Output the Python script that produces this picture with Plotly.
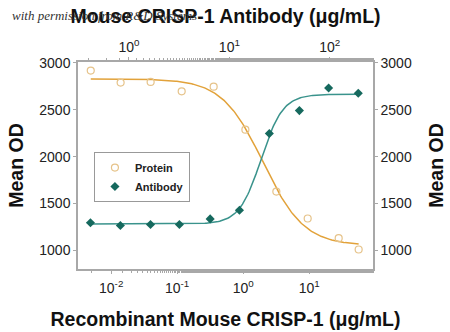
import numpy as np
import plotly.graph_objects as go

# ---- data ----
protein_conc = [0.0049, 0.0139, 0.0396, 0.117, 0.357, 1.08, 3.18, 9.49, 28.0, 56.2]   # µg/mL, bottom axis
protein_od = [2918, 2790, 2797, 2697, 2747, 2288, 1627, 1339, 1129, 1008]

antibody_conc = [0.414, 0.822, 1.64, 3.18, 6.44, 12.6, 25.0, 49.8, 97.3, 192]        # µg/mL, top axis
antibody_od = [1293, 1264, 1275, 1275, 1335, 1427, 2246, 2491, 2733, 2676]

# 4-parameter logistic fit parameters (top, bottom, EC50, Hill slope)
protein_fit = dict(top=2830, bottom=1050, ec50=2.0, hill=1.4)
antibody_fit = dict(top=2665, bottom=1280, ec50=20.7, hill=4.0)

y_ticks = [1000, 1500, 2000, 2500, 3000]
bottom_x_ticks = [0.01, 0.1, 1, 10]
bottom_x_labels = ["10<sup>-2</sup>", "10<sup>-1</sup>", "10<sup>0</sup>", "10<sup>1</sup>"]
top_x_ticks = [1, 10, 100]
top_x_labels = ["10<sup>0</sup>", "10<sup>1</sup>", "10<sup>2</sup>"]


def four_pl(x, top, bottom, ec50, hill):
    return bottom + (top - bottom) / (1 + (x / ec50) ** hill)


px = np.logspace(np.log10(protein_conc[0]), np.log10(protein_conc[-1]), 200)
py = four_pl(px, **protein_fit)
ax_ = np.logspace(np.log10(antibody_conc[0]), np.log10(antibody_conc[-1]), 200)
ay = four_pl(ax_, antibody_fit["bottom"], antibody_fit["top"], antibody_fit["ec50"], antibody_fit["hill"])

ORANGE_LINE = "#E2A23A"
ORANGE_MK = "#E6C38A"
TEAL_LINE = "#3A938C"
TEAL_MK = "#16695E"
AXIS = "#A8A8A8"
FONT = "Arial, 'Liberation Sans', sans-serif"

fig = go.Figure()
fig.add_trace(go.Scatter(x=px, y=py, mode="lines", line=dict(color=ORANGE_LINE, width=1.5),
                         showlegend=False, hoverinfo="skip", xaxis="x", yaxis="y"))
fig.add_trace(go.Scatter(x=ax_, y=ay, mode="lines", line=dict(color=TEAL_LINE, width=1.5),
                         showlegend=False, hoverinfo="skip", xaxis="x2", yaxis="y"))
fig.add_trace(go.Scatter(x=protein_conc, y=protein_od, mode="markers", name="<b>Protein</b>",
                         marker=dict(symbol="circle-open", size=7, color=ORANGE_MK, line=dict(width=1.2)),
                         xaxis="x", yaxis="y"))
fig.add_trace(go.Scatter(x=antibody_conc, y=antibody_od, mode="markers", name="<b>Antibody</b>",
                         marker=dict(symbol="diamond", size=7, color=TEAL_MK),
                         xaxis="x2", yaxis="y"))
# trace anchoring the right-hand OD axis
fig.add_trace(go.Scatter(x=[None], y=[None], showlegend=False, hoverinfo="skip", xaxis="x", yaxis="y2"))

tickfont = dict(family=FONT, size=14, color="#222")
titlefont = dict(family=FONT, size=19.5, color="#111")
common_y = dict(range=[800, 3010], tickvals=y_ticks, ticks="outside", ticklen=3, tickcolor=AXIS,
                showline=True, linecolor=AXIS, linewidth=1.5, showgrid=False, zeroline=False,
                tickfont=tickfont, automargin=False)
common_x = dict(type="log", ticks="outside", ticklen=3, tickcolor=AXIS,
                minor=dict(ticks="outside", ticklen=2, tickcolor=AXIS),
                showline=True, linecolor=AXIS, linewidth=1.5, showgrid=False, zeroline=False,
                tickfont=tickfont, automargin=False)

fig.update_layout(
    width=450, height=332,
    margin=dict(l=78, r=77, t=62, b=63),
    paper_bgcolor="white", plot_bgcolor="white",
    font=dict(family=FONT),
    xaxis=dict(**common_x, range=[-2.503, 1.967], tickvals=bottom_x_ticks, ticktext=bottom_x_labels,
               ticklabelstandoff=2,
               title=dict(text="<b>Recombinant Mouse CRISP-1 (\u03bcg/mL)</b>", font=titlefont, standoff=18)),
    xaxis2=dict(**common_x, range=[-0.507, 2.43], tickvals=top_x_ticks, ticktext=top_x_labels,
                overlaying="x", side="top", anchor="y", ticklabelstandoff=0,
                title=dict(text="<b>Mouse CRISP-1 Antibody (\u03bcg/mL)</b>", font=titlefont, standoff=8)),
    yaxis=dict(**common_y, side="left",
               title=dict(text="<b>Mean OD</b>", font=titlefont, standoff=10)),
    yaxis2=dict(**common_y, side="right", overlaying="y", anchor="x",
                title=dict(text="<b>Mean OD</b>", font=titlefont, standoff=18)),
    legend=dict(x=0.054, y=0.565, xanchor="left", yanchor="top",
                bordercolor="#999", borderwidth=1, bgcolor="white",
                font=dict(family=FONT, size=11, color="#222"),
                tracegroupgap=0),
)
fig.add_annotation(text="<i>with permission from R&D Systems</i>", xref="paper", yref="paper",
                   x=(10 - 78) / 295, y=(269 - 16) / 207, xanchor="left", yanchor="middle",
                   showarrow=False,
                   font=dict(family="'Liberation Serif', 'DejaVu Serif', serif", size=13, color="#333"))

fig.write_html("out.html")
